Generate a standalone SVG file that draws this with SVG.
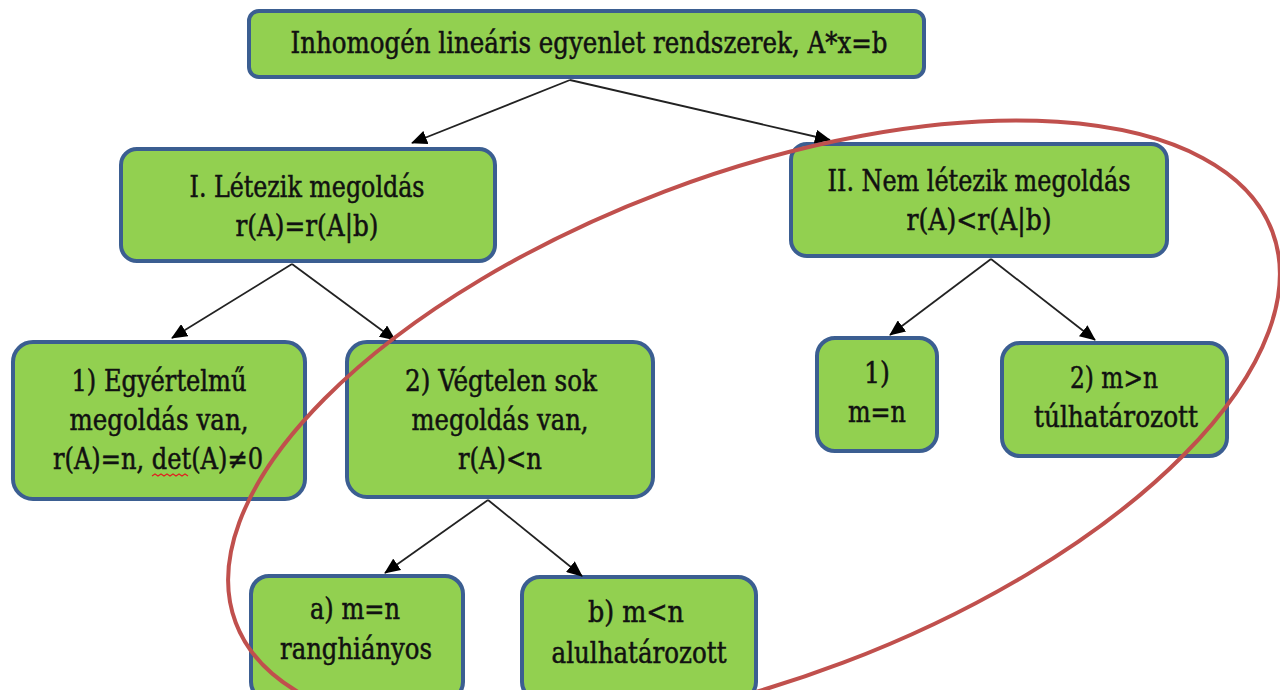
<svg xmlns="http://www.w3.org/2000/svg" width="1280" height="690" viewBox="0 0 1280 690">
<defs>
<style>
.box{fill:#92D050;stroke:#3B5E91;stroke-width:4}
.t{font-family:"DejaVu Serif Condensed","DejaVu Serif","Liberation Serif",serif;font-size:29px;fill:#111;stroke:#111;stroke-width:0.5;text-anchor:middle}
.c{stroke:#222;stroke-width:1.8;fill:none;marker-end:url(#ah)}
</style>
<marker id="ah" markerUnits="userSpaceOnUse" markerWidth="16" markerHeight="14" refX="15" refY="7" orient="auto">
<path d="M0,0 L16,7 L0,14 Z" fill="#000"/>
</marker>
</defs>
<rect width="1280" height="690" fill="#fff"/>
<g id="top">
<rect class="box" x="249" y="11" width="675" height="66" rx="10"/>
<text class="t" x="589" y="53" textLength="597" lengthAdjust="spacingAndGlyphs">Inhomogén lineáris egyenlet rendszerek, A*x=b</text>
</g>
<g id="n1">
<rect class="box" x="121" y="149" width="374" height="112" rx="16"/>
<text class="t" x="307" y="197" textLength="235" lengthAdjust="spacingAndGlyphs">I. Létezik megoldás</text>
<text class="t" x="307" y="236" textLength="143" lengthAdjust="spacingAndGlyphs">r(A)=r(A|b)</text>
</g>
<g id="n2">
<rect class="box" x="791" y="144" width="376" height="112" rx="16"/>
<text class="t" x="979" y="191" textLength="303" lengthAdjust="spacingAndGlyphs">II. Nem létezik megoldás</text>
<text class="t" x="979" y="230" textLength="145" lengthAdjust="spacingAndGlyphs">r(A)&lt;r(A|b)</text>
</g>
<g id="n11">
<rect class="box" x="13" y="342" width="292" height="157" rx="20"/>
<text class="t" x="159" y="391" textLength="175" lengthAdjust="spacingAndGlyphs">1) Egyértelmű</text>
<text class="t" x="159" y="430" textLength="179" lengthAdjust="spacingAndGlyphs">megoldás van,</text>
<text class="t" x="158" y="469" textLength="210" lengthAdjust="spacingAndGlyphs">r(A)=n, det(A)≠0</text>
<path d="M152,476 l3,-2 l3,2 l3,-2 l3,2 l3,-2 l3,2 l3,-2 l3,2 l3,-2 l3,2 l3,-2 l3,2" fill="none" stroke="#E02020" stroke-width="1.2"/>
</g>
<g id="n12">
<rect class="box" x="347" y="342" width="306" height="155" rx="20"/>
<text class="t" x="501" y="391" textLength="192" lengthAdjust="spacingAndGlyphs">2) Végtelen sok</text>
<text class="t" x="500" y="430" textLength="177" lengthAdjust="spacingAndGlyphs">megoldás van,</text>
<text class="t" x="500" y="469" textLength="84" lengthAdjust="spacingAndGlyphs">r(A)&lt;n</text>
</g>
<g id="n21">
<rect class="box" x="817" y="338" width="120" height="113" rx="18"/>
<text class="t" x="877" y="383" textLength="26" lengthAdjust="spacingAndGlyphs">1)</text>
<text class="t" x="877" y="422" textLength="58" lengthAdjust="spacingAndGlyphs">m=n</text>
</g>
<g id="n22">
<rect class="box" x="1002" y="343" width="225" height="113" rx="18"/>
<text class="t" x="1114" y="388" textLength="88" lengthAdjust="spacingAndGlyphs">2) m&gt;n</text>
<text class="t" x="1116" y="427" textLength="164" lengthAdjust="spacingAndGlyphs">túlhatározott</text>
</g>
<g id="na">
<rect class="box" x="251" y="576" width="212" height="124" rx="18"/>
<text class="t" x="355" y="619" textLength="90" lengthAdjust="spacingAndGlyphs">a) m=n</text>
<text class="t" x="356" y="659" textLength="152" lengthAdjust="spacingAndGlyphs">ranghiányos</text>
</g>
<g id="nb">
<rect class="box" x="522" y="577" width="234" height="123" rx="18"/>
<text class="t" x="636" y="622" textLength="96" lengthAdjust="spacingAndGlyphs">b) m&lt;n</text>
<text class="t" x="639" y="663" textLength="175" lengthAdjust="spacingAndGlyphs">alulhatározott</text>
</g>
<g id="connectors">
<line class="c" x1="570" y1="80" x2="412" y2="143"/>
<line class="c" x1="570" y1="80" x2="830" y2="140"/>
<line class="c" x1="292" y1="264" x2="172" y2="338"/>
<line class="c" x1="292" y1="264" x2="395" y2="340"/>
<line class="c" x1="991" y1="259" x2="890" y2="335"/>
<line class="c" x1="991" y1="259" x2="1095" y2="340"/>
<line class="c" x1="488" y1="500" x2="385" y2="573"/>
<line class="c" x1="488" y1="500" x2="582" y2="576"/>
</g>
<ellipse id="highlight" cx="754" cy="427" rx="554" ry="252" transform="rotate(-20.7 754 427)" fill="none" stroke="#C0504D" stroke-width="4"/>
</svg>
